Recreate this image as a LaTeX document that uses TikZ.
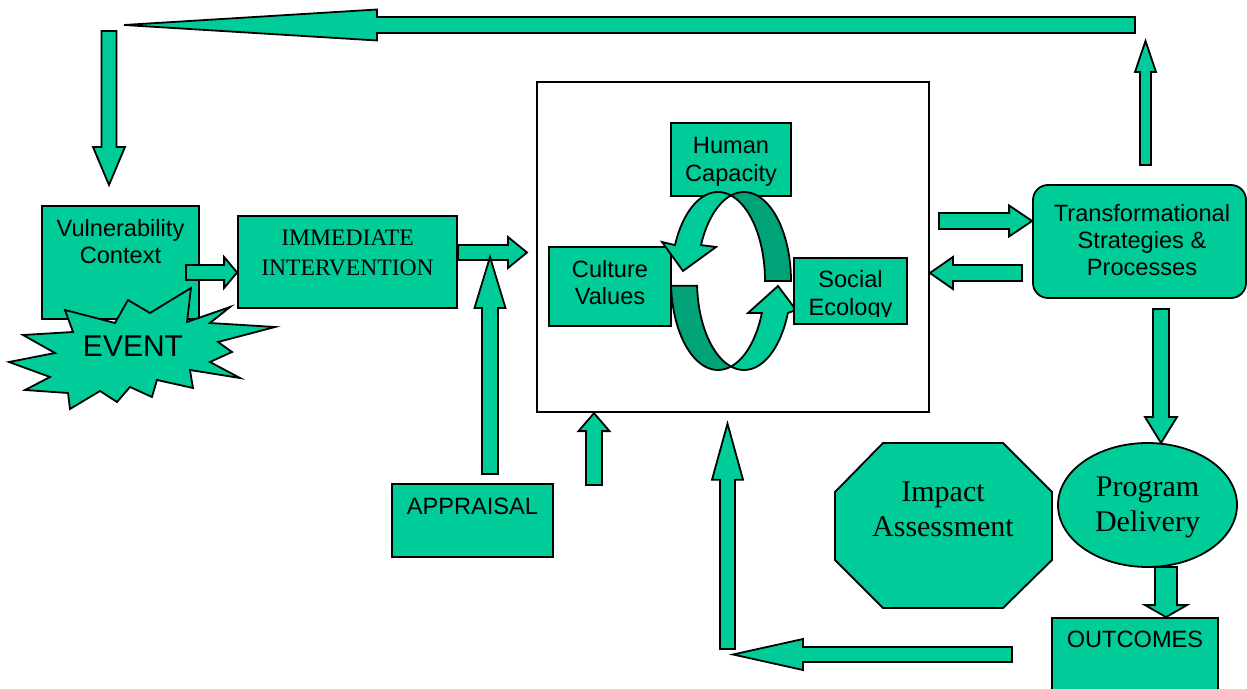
\documentclass[tikz,border=0pt]{standalone}
\usepackage{fontspec}
\setmainfont{Liberation Serif}
\setsansfont{Liberation Sans}
\usetikzlibrary{calc,shapes.geometric}
\definecolor{sea}{HTML}{00CC99}
\definecolor{seadark}{HTML}{00A277}

% block arrow: tail, tip, half shaft, half head, head length
\newcommand{\blockarrow}[5]{%
  \coordinate (ba) at ($(#2)!#5!(#1)$);
  \draw[blockarr] ($(#1)!#3!90:(#2)$) -- ($(ba)!#3!90:(#2)$) -- ($(ba)!#4!90:(#2)$)
    -- (#2) -- ($(ba)!#4!-90:(#2)$) -- ($(ba)!#3!-90:(#2)$) -- ($(#1)!#3!-90:(#2)$) -- cycle;}

\begin{document}
\begin{tikzpicture}[x=0.5pt, y=-0.5pt,
    box/.style={draw, line width=0.9pt, fill=sea, inner sep=0pt},
    blockarr/.style={draw, line width=0.9pt, fill=sea},
    ring/.style={draw, line width=0.9pt, fill=sea},
    ringdark/.style={draw, line width=0.9pt, fill=seadark},
    sans/.style={font=\sffamily\fontsize{11.8}{13.5}\selectfont, align=center, inner sep=0pt},
    serif/.style={font=\rmfamily\fontsize{11.8}{15}\selectfont, align=center, inner sep=0pt},
    bigserif/.style={font=\rmfamily\fontsize{15}{17.5}\selectfont, align=center, inner sep=0pt}]
  \clip (0,0) rectangle (1247,689);

  % loop back over the top
  \coordinate (topR) at (1135,25);
  \coordinate (topL) at (124,25);
  \blockarrow{topR}{topL}{4pt}{7.75pt}{126.5pt}
  \coordinate (downT) at (109,31);
  \coordinate (downB) at (109,185);
  \blockarrow{downT}{downB}{3.75pt}{8pt}{19pt}

  % vulnerability and event
  \node[box, minimum width=78.5pt, minimum height=56.5pt] (vuln) at (120.5,262.5) {};
  \node[sans] (vulntext) at (120.5,241.5) {Vulnerability\\Context};
  \node[box, minimum width=109.5pt, minimum height=46pt] (imm) at (347.5,262) {};
  \node[serif] (immtext) at (347.5,253) {IMMEDIATE\\INTERVENTION};
  \coordinate (vulnout) at (186,272.5);
  \blockarrow{vulnout}{$(imm.west)+(0,10.5)$}{3.75pt}{7.75pt}{6.5pt}
  \draw[box] (191,288) -- (150,313) -- (128,300) -- (115,323) -- (65,310) -- (73,332)
    -- (23,335) -- (55,353) -- (9,362) -- (50,377) -- (25,390) -- (68,393) -- (70,409)
    -- (100,391) -- (117,402) -- (130,387) -- (152,397) -- (157,380) -- (193,388)
    -- (190,370) -- (240,378) -- (210,362) -- (232,352) -- (218,342) -- (275,327)
    -- (210,323) -- (230,307) -- (187,322) -- cycle;
  \node[font=\sffamily\fontsize{15}{18}\selectfont, inner sep=0pt] (event) at (133,346) {EVENT};

  % intervention and appraisal
  \coordinate (immin) at (527,252.5);
  \blockarrow{$(imm.east)+(0,-9.5)$}{immin}{3.75pt}{7.75pt}{9.5pt}
  \coordinate (apprT) at (490,257);
  \coordinate (apprB) at (490,474);
  \blockarrow{apprB}{apprT}{4pt}{7.75pt}{25.5pt}
  \node[box, minimum width=80.5pt, minimum height=36.5pt] (appr) at (472.5,520.5) {};
  \node[sans] (apprtext) at (472.5,506) {APPRAISAL};

  % core box with the cycle
  \node[draw, line width=0.9pt, fill=white, minimum width=196pt, minimum height=165pt] (core) at (733,247.25) {};
  \node[box, minimum width=60pt, minimum height=36.5pt] (human) at (731,159.5) {};
  \node[sans, font=\sffamily\fontsize{11.8}{14}\selectfont] (humantext) at (731,161.5) {Human\\Capacity};
  \node[box, minimum width=61pt, minimum height=39.5pt] (culture) at (610,286.5) {};
  \node[sans] (culturetext) at (610,282.5) {Culture\\Values};
  \draw[ring] plot[domain=203.8:286, samples=30] ({718+47*cos(\x)},{281+89*sin(\x)})
    -- plot[domain=254:203.8, samples=30] ({744+47*cos(\x)},{281+89*sin(\x)})
    -- (716,247) -- (683,271) -- (662,242) -- cycle;
  \draw[ringdark] plot[domain=254:360, samples=30] ({744+47*cos(\x)},{281+89*sin(\x)})
    -- plot[domain=360:286, samples=30] ({718+47*cos(\x)},{281+89*sin(\x)}) -- cycle;
  \draw[ringdark] plot[domain=177:74, samples=30] ({718+47*cos(\x)},{281+89*sin(\x)})
    -- plot[domain=106:177, samples=30] ({744+47*cos(\x)},{281+89*sin(\x)}) -- cycle;
  \draw[ring] plot[domain=106:21.1, samples=30] ({744+47*cos(\x)},{281+89*sin(\x)})
    -- (796,310) -- (778,286) -- (748,313)
    -- plot[domain=21.1:74, samples=30] ({718+47*cos(\x)},{281+89*sin(\x)}) -- cycle;
  \node[box, minimum width=56.5pt, minimum height=33pt] (social) at (850.5,291) {};
  \begin{scope}
    \clip (794,258) rectangle (907,317);
    \node[sans, font=\sffamily\fontsize{11.8}{14}\selectfont] (socialtext) at (850.5,295) {Social\\Ecology};
  \end{scope}
  \coordinate (coreB) at (594,485);
  \blockarrow{coreB}{$(core.south)+(-139,0)$}{4pt}{7.75pt}{9pt}

  % transformational strategies
  \node[box, rounded corners=7.5pt, minimum width=106.5pt, minimum height=56.5pt] (trans) at (1139.5,241.5) {};
  \node[sans] (transtext) at (1142,240) {Transformational\\Strategies \&\\Processes};
  \coordinate (coreout) at (939,221);
  \blockarrow{coreout}{$(trans.west)+(0,-20.5)$}{4pt}{7.75pt}{11.5pt}
  \coordinate (transout) at (1022,273);
  \blockarrow{transout}{$(core.east)+(0,25.75)$}{4pt}{8pt}{11.5pt}
  \coordinate (transupB) at (1145.5,165);
  \coordinate (transupT) at (1145.5,41);
  \blockarrow{transupB}{transupT}{2.75pt}{5.25pt}{15.5pt}

  % delivery and outcomes
  \node[box, ellipse, minimum width=89.5pt, minimum height=62pt] (prog) at (1147.5,505) {};
  \node[bigserif] (progtext) at (1147.5,507) {Program\\Delivery};
  \coordinate (transdown) at (1161,309);
  \coordinate (progin) at (1161,443);
  \blockarrow{transdown}{progin}{4pt}{8pt}{13pt}
  \node[box, minimum width=83pt, minimum height=41pt] (outc) at (1135,659) {};
  \node[sans] (outctext) at (1135,639) {OUTCOMES};
  \coordinate (progout) at (1166,567);
  \blockarrow{progout}{$(outc.north)+(31,0)$}{5.5pt}{10.5pt}{6pt}

  % impact assessment
  \draw[box] (835,492) -- (883,443) -- (1003,443) -- (1052,492) -- (1052,560)
    -- (1003,608) -- (883,608) -- (835,560) -- cycle;
  \node[bigserif] (impact) at (943,509) {Impact\\Assessment};

  % feedback from outcomes into the core
  \coordinate (outcin) at (1012,654.5);
  \coordinate (retturn) at (733,654.5);
  \blockarrow{outcin}{retturn}{3.75pt}{7.75pt}{35pt}
  \coordinate (retB) at (727.5,649);
  \blockarrow{retB}{$(core.south)+(-5.5,10.5)$}{3.75pt}{7.75pt}{28pt}
\end{tikzpicture}
\end{document}
